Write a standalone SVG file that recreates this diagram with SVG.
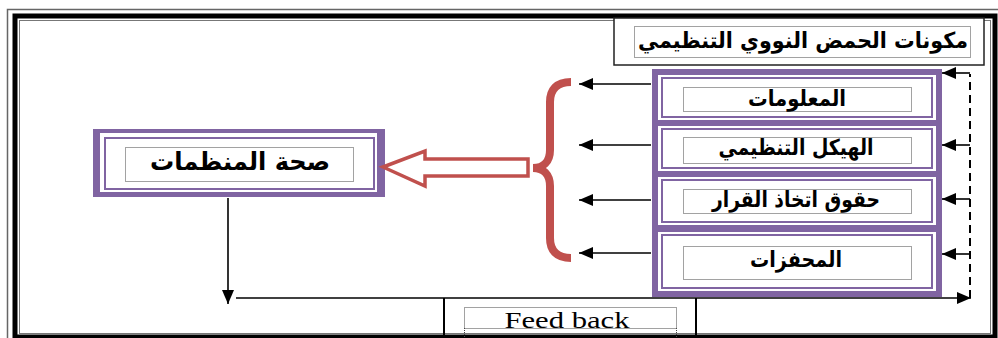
<svg xmlns="http://www.w3.org/2000/svg" width="998" height="338" viewBox="0 0 998 338">
<defs>
<style>
.ar{font-family:"DejaVu Sans","Noto Sans",sans-serif;font-weight:bold;fill:#000;text-anchor:middle}
.dot{fill:none;stroke:#444;stroke-width:1;stroke-dasharray:1,1}
.conn{stroke:#000;stroke-width:1.6;fill:none}
.pur{fill:#8064A2}
.wh{fill:#fff}
.thin{fill:none;stroke:#8064A2;stroke-width:2}
</style>
<marker id="ah" viewBox="0 0 14 12" refX="14" refY="6" markerWidth="14" markerHeight="12" markerUnits="userSpaceOnUse" orient="auto">
<path d="M0,0 L14,6 L0,12 z" fill="#000"/>
</marker>
</defs>
<rect width="998" height="338" fill="#fff"/>
<g id="frame">
<rect x="7.5" y="9.5" width="995" height="340" fill="none" stroke="#666" stroke-width="1.5"/>
<rect x="15" y="16" width="980" height="321" fill="none" stroke="#000" stroke-width="5"/>
<rect x="19.5" y="20.5" width="971" height="313" fill="none" stroke="#777" stroke-width="1"/>
</g>
<g id="title">
<rect x="614" y="18" width="370" height="47" fill="#fff" stroke="#222" stroke-width="1.5"/>
<rect x="634.5" y="26.5" width="336" height="31" class="dot"/>
<text x="803" y="48" class="ar" font-size="22" textLength="330" lengthAdjust="spacingAndGlyphs">مكونات الحمض النووي التنظيمي</text>
</g>
<g id="components">
<rect x="652" y="69" width="290" height="228" class="pur"/>
<g id="n-info">
<rect x="658" y="75" width="278" height="45" class="wh"/>
<rect x="662" y="78" width="270" height="39" class="thin"/>
<rect x="683.5" y="87.5" width="228" height="24" class="dot"/>
<text x="797" y="106" class="ar" font-size="22" textLength="98" lengthAdjust="spacingAndGlyphs">المعلومات</text>
</g>
<g id="n-structure">
<rect x="658" y="126" width="278" height="45" class="wh"/>
<rect x="662" y="129" width="270" height="39" class="thin"/>
<rect x="683.5" y="137.5" width="228" height="26" class="dot"/>
<text x="796" y="155" class="ar" font-size="22" textLength="155" lengthAdjust="spacingAndGlyphs">الهيكل التنظيمي</text>
</g>
<g id="n-rights">
<rect x="658" y="177" width="278" height="48" class="wh"/>
<rect x="662" y="180" width="270" height="42" class="thin"/>
<rect x="683.5" y="189.5" width="228" height="24" class="dot"/>
<text x="796" y="207" class="ar" font-size="22" textLength="168" lengthAdjust="spacingAndGlyphs">حقوق اتخاذ القرار</text>
</g>
<g id="n-incentives">
<rect x="658" y="232" width="278" height="59" class="wh"/>
<rect x="662" y="235" width="270" height="53" class="thin"/>
<rect x="683.5" y="246.5" width="228" height="33" class="dot"/>
<text x="796" y="267" class="ar" font-size="22" textLength="92" lengthAdjust="spacingAndGlyphs">المحفزات</text>
</g>
</g>
<g id="n-health">
<rect x="93" y="129" width="292" height="68" class="pur"/>
<rect x="100" y="133" width="277" height="59" class="wh"/>
<rect x="105" y="138" width="269" height="51" class="thin"/>
<rect x="125.5" y="147.5" width="228" height="34" class="dot"/>
<text x="240" y="170" class="ar" font-size="25" textLength="180" lengthAdjust="spacingAndGlyphs">صحة المنظمات</text>
</g>
<g id="n-feedback">
<line x1="444" y1="298" x2="444" y2="338" stroke="#000" stroke-width="2"/>
<line x1="696" y1="298" x2="696" y2="338" stroke="#000" stroke-width="2"/>
<rect x="464.5" y="307.5" width="212" height="21" class="dot"/>
<line x1="464.5" y1="328" x2="464.5" y2="338" class="dot"/>
<line x1="676.5" y1="328" x2="676.5" y2="338" class="dot"/>
<text x="567" y="328" font-family="Liberation Serif,serif" font-size="23" text-anchor="middle" textLength="125" lengthAdjust="spacingAndGlyphs" fill="#000">Feed back</text>
</g>
<g id="connectors">
<line x1="651" y1="84" x2="579" y2="84" class="conn" marker-end="url(#ah)"/>
<line x1="651" y1="145" x2="579" y2="145" class="conn" marker-end="url(#ah)"/>
<line x1="651" y1="200" x2="579" y2="200" class="conn" marker-end="url(#ah)"/>
<line x1="651" y1="253" x2="579" y2="253" class="conn" marker-end="url(#ah)"/>
<path d="M571,82 C556,82 550,90 550,102 L550,150 C550,162 543,168 533,168 C543,168 550,174 550,186 L550,238 C550,250 556,258 571,258" fill="none" stroke="#C0504D" stroke-width="8"/>
<polygon points="383,167 425,151 425,159 528,159 528,176 425,176 425,186" fill="#fff" stroke="#C0504D" stroke-width="3.5" stroke-linejoin="miter"/>
<line x1="228" y1="198" x2="228" y2="304" class="conn" marker-end="url(#ah)"/>
<line x1="236" y1="298" x2="971" y2="298" class="conn" marker-end="url(#ah)"/>
<line x1="970" y1="298" x2="970" y2="74" stroke="#000" stroke-width="2" stroke-dasharray="8,5"/>
<line x1="970" y1="73" x2="942" y2="73" class="conn" marker-end="url(#ah)"/>
<line x1="970" y1="145" x2="942" y2="145" class="conn" marker-end="url(#ah)"/>
<line x1="970" y1="199" x2="942" y2="199" class="conn" marker-end="url(#ah)"/>
<line x1="970" y1="254" x2="942" y2="254" class="conn" marker-end="url(#ah)"/>
</g>
</svg>
